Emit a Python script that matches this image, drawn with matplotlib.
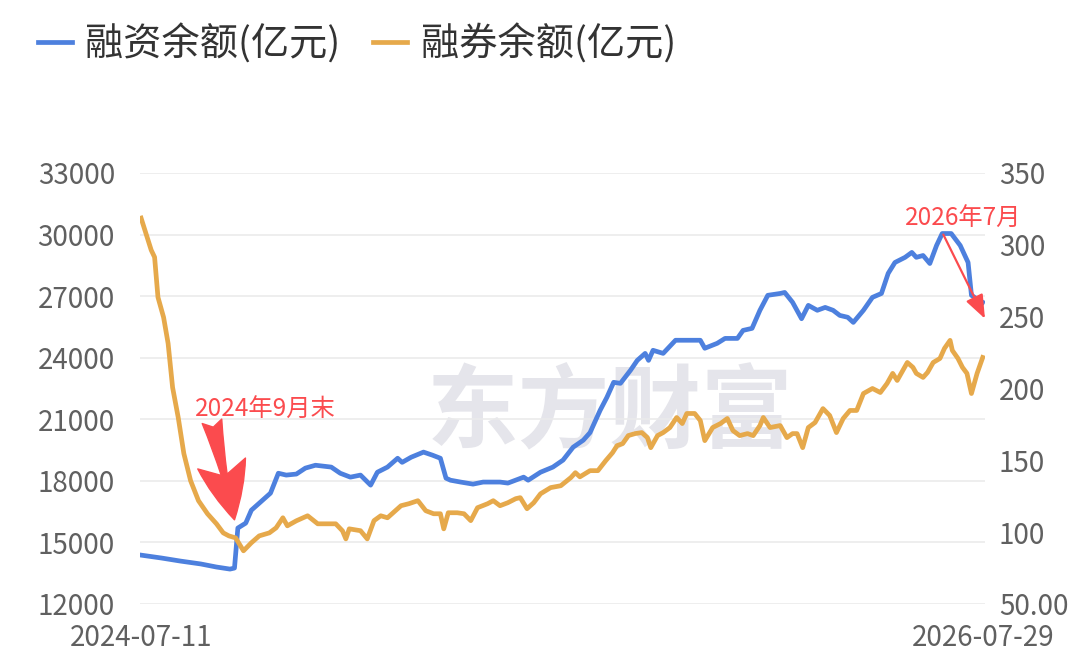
import numpy as np
import pandas as pd
import matplotlib
matplotlib.use('Agg')
import matplotlib.pyplot as plt

plt.rcParams['font.family'] = ['Noto Sans CJK SC', 'DejaVu Sans']

# 融资余额(亿元), left axis
rz_dates = ['2024-07-11', '2024-07-29', '2024-08-15', '2024-09-02', '2024-09-16', '2024-09-28',
            '2024-10-02', '2024-10-05', '2024-10-12', '2024-10-17', '2024-10-25', '2024-11-03',
            '2024-11-10', '2024-11-17', '2024-11-26', '2024-12-04', '2024-12-13', '2024-12-27',
            '2025-01-04', '2025-01-13', '2025-01-22', '2025-01-31', '2025-02-06', '2025-02-15',
            '2025-02-24', '2025-02-28', '2025-03-08', '2025-03-19', '2025-03-27', '2025-04-03',
            '2025-04-08', '2025-04-12', '2025-04-21', '2025-05-02', '2025-05-11', '2025-05-26',
            '2025-06-02', '2025-06-16', '2025-06-20', '2025-07-01', '2025-07-12', '2025-07-21',
            '2025-07-30', '2025-08-08', '2025-08-14', '2025-08-23', '2025-08-29', '2025-09-04',
            '2025-09-10', '2025-09-19', '2025-09-25', '2025-10-02', '2025-10-05', '2025-10-09',
            '2025-10-18', '2025-10-29', '2025-11-11', '2025-11-20', '2025-11-24', '2025-12-05',
            '2025-12-12', '2025-12-23', '2025-12-28', '2026-01-05', '2026-01-12', '2026-01-19',
            '2026-01-30', '2026-02-03', '2026-02-10', '2026-02-18', '2026-02-24', '2026-03-04',
            '2026-03-11', '2026-03-18', '2026-03-24', '2026-03-31', '2026-04-05', '2026-04-14',
            '2026-04-22', '2026-04-30', '2026-05-06', '2026-05-12', '2026-05-21', '2026-05-27',
            '2026-05-31', '2026-06-06', '2026-06-12', '2026-06-18', '2026-06-23', '2026-07-01',
            '2026-07-09', '2026-07-16', '2026-07-19', '2026-07-26', '2026-07-29']
rz_values = [14380, 14240, 14090, 13950, 13800, 13700,
             13750, 15700, 15940, 16570, 16960, 17400,
             18370, 18280, 18330, 18620, 18760, 18670,
             18370, 18180, 18280, 17790, 18420, 18670,
             19100, 18900, 19150, 19400, 19250, 19100,
             18130, 18030, 17940, 17840, 17940, 17940,
             17890, 18180, 18030, 18420, 18670, 19010,
             19640, 19980, 20350, 21440, 22070, 22800,
             22750, 23390, 23870, 24210, 23870, 24360,
             24210, 24850, 24850, 24850, 24460, 24700,
             24940, 24940, 25330, 25430, 26310, 27040,
             27130, 27180, 26700, 25900, 26550, 26310,
             26450, 26310, 26060, 25970, 25720, 26310,
             26940, 27130, 28110, 28640, 28890, 29130,
             28890, 28980, 28590, 29470, 30050, 30050,
             29470, 28640, 27040, 26790, 26700]

# 融券余额(亿元), right axis
rq_dates = ['2024-07-11', '2024-07-15', '2024-07-20', '2024-07-23', '2024-07-26', '2024-07-31',
            '2024-08-04', '2024-08-08', '2024-08-13', '2024-08-18', '2024-08-24', '2024-08-31',
            '2024-09-08', '2024-09-16', '2024-09-22', '2024-09-27', '2024-10-03', '2024-10-10',
            '2024-10-17', '2024-10-24', '2024-11-02', '2024-11-08', '2024-11-14', '2024-11-18',
            '2024-11-26', '2024-12-06', '2024-12-15', '2024-12-31', '2025-01-06', '2025-01-09',
            '2025-01-12', '2025-01-22', '2025-01-28', '2025-02-03', '2025-02-09', '2025-02-15',
            '2025-02-20', '2025-02-27', '2025-03-06', '2025-03-14', '2025-03-21', '2025-03-28',
            '2025-04-03', '2025-04-06', '2025-04-10', '2025-04-18', '2025-04-24', '2025-04-30',
            '2025-05-06', '2025-05-15', '2025-05-20', '2025-05-26', '2025-06-02', '2025-06-09',
            '2025-06-13', '2025-06-19', '2025-06-25', '2025-07-01', '2025-07-10', '2025-07-19',
            '2025-07-28', '2025-08-01', '2025-08-05', '2025-08-14', '2025-08-21', '2025-08-28',
            '2025-09-03', '2025-09-07', '2025-09-12', '2025-09-17', '2025-09-23', '2025-09-29',
            '2025-10-04', '2025-10-07', '2025-10-13', '2025-10-18', '2025-10-24', '2025-10-30',
            '2025-11-04', '2025-11-08', '2025-11-15', '2025-11-20', '2025-11-24', '2025-12-01',
            '2025-12-08', '2025-12-14', '2025-12-19', '2025-12-25', '2026-01-01', '2026-01-06',
            '2026-01-12', '2026-01-15', '2026-01-21', '2026-01-30', '2026-02-05', '2026-02-10',
            '2026-02-14', '2026-02-19', '2026-02-24', '2026-03-02', '2026-03-09', '2026-03-15',
            '2026-03-21', '2026-03-27', '2026-04-02', '2026-04-08', '2026-04-14', '2026-04-22',
            '2026-04-29', '2026-05-05', '2026-05-10', '2026-05-14', '2026-05-18', '2026-05-23',
            '2026-05-28', '2026-05-31', '2026-06-06', '2026-06-10', '2026-06-15', '2026-06-21',
            '2026-06-25', '2026-06-30', '2026-07-02', '2026-07-07', '2026-07-11', '2026-07-15',
            '2026-07-19', '2026-07-24', '2026-07-28', '2026-07-29']
rq_values = [318.6, 308.8, 296.3, 291.4, 263.5, 249.5,
             231.4, 200.7, 179.8, 154.7, 135.8, 121.9,
             112.8, 105.8, 99.5, 97.4, 96.0, 87.0,
             92.6, 97.4, 99.5, 103.0, 110.0, 104.4,
             107.9, 111.4, 105.8, 105.8, 100.9, 95.3,
             102.3, 101.0, 95.3, 108.0, 111.4, 110.0,
             113.5, 118.4, 119.8, 121.9, 114.9, 112.8,
             112.8, 102.3, 113.5, 113.5, 112.8, 108.0,
             117.0, 119.8, 121.9, 118.4, 120.5, 123.3,
             124.0, 116.3, 120.5, 126.7, 131.0, 132.3,
             138.0, 141.4, 138.5, 142.8, 142.8, 149.8,
             155.3, 160.2, 161.6, 167.2, 168.6, 169.3,
             165.8, 158.8, 167.2, 169.3, 172.8, 179.8,
             175.6, 182.6, 182.6, 177.7, 163.7, 172.8,
             175.6, 179.1, 170.7, 167.2, 168.6, 167.2,
             174.2, 179.8, 172.8, 174.2, 165.8, 168.6,
             168.6, 158.8, 172.8, 176.3, 186.0, 181.2,
             169.3, 179.1, 184.7, 184.7, 196.5, 200.0,
             197.2, 203.5, 210.5, 205.6, 211.2, 218.1,
             214.7, 210.5, 207.7, 211.2, 218.1, 220.9,
             227.9, 233.5, 226.5, 220.9, 214.7, 210.5,
             196.5, 210.5, 219.5, 221.6]

left_ticks = [12000, 15000, 18000, 21000, 24000, 27000, 30000, 33000]
right_ticks = [50, 100, 150, 200, 250, 300, 350]
right_labels = ['50.00', '100', '150', '200', '250', '300', '350']
x_labels = ['2024-07-11', '2026-07-29']

blue = '#4d80de'
orange = '#e6a94b'
red = '#fb4b4e'
tick_color = '#606060'

rz_x = pd.to_datetime(rz_dates)
rq_x = pd.to_datetime(rq_dates)

fig = plt.figure(figsize=(10.8, 6.59), dpi=100)
ax = fig.add_axes([0.1296, 0.0835, 0.7824, 0.654])
ax2 = ax.twinx()

# watermark
ax.text(0.556, 0.44, '东方财富', transform=ax.transAxes, fontsize=66, color='#e5e5eb',
        ha='center', va='center', fontweight='bold', zorder=0)

l1, = ax.plot(rz_x, rz_values, color=blue, lw=3.4, solid_joinstyle='round', zorder=3)
l2, = ax2.plot(rq_x, rq_values, color=orange, lw=3.4, solid_joinstyle='round', zorder=3)

ax.set_ylim(12000, 33000)
ax2.set_ylim(50, 350)
ax.set_yticks(left_ticks)
ax2.set_yticks(right_ticks)
ax2.set_yticklabels(right_labels)

x0 = pd.Timestamp(x_labels[0])
x1 = pd.Timestamp(x_labels[1])
ax.set_xlim(x0 - pd.Timedelta(days=1), x1 + pd.Timedelta(days=2))
ax.set_xticks([x0, x1])
ax.set_xticklabels(x_labels)

ax.grid(axis='y', color='#ebebeb', lw=1.2)
ax.set_axisbelow(True)
for a in (ax, ax2):
    for s in a.spines.values():
        s.set_visible(False)
    a.tick_params(length=0, labelsize=20, colors=tick_color)
ax.tick_params(axis='y', pad=18)
ax2.tick_params(axis='y', pad=10)
ax.tick_params(axis='x', pad=14)

# annotations
ax.annotate('', xy=(pd.Timestamp('2024-10-02'), 16100), xytext=(pd.Timestamp('2024-09-12'), 20900),
            arrowprops=dict(arrowstyle='fancy,head_length=1.3,head_width=1.1,tail_width=0.45',
                            color=red, mutation_scale=32, shrinkA=0, shrinkB=0), zorder=5)
ax.text(pd.Timestamp('2024-08-28'), 20800, '2024年9月末', color=red, fontsize=17.5,
        ha='left', va='bottom', zorder=6)

ax.annotate('', xy=(pd.Timestamp('2026-07-31'), 25900), xytext=(pd.Timestamp('2026-06-24'), 30000),
            arrowprops=dict(arrowstyle='-|>,head_length=0.9,head_width=0.35', color=red, lw=1.6,
                            mutation_scale=16, shrinkA=0, shrinkB=0), zorder=5)
ax.text(pd.Timestamp('2026-05-21'), 30150, '2026年7月', color=red, fontsize=17.5,
        ha='left', va='bottom', zorder=6)

fig.legend([l1, l2], ['融资余额(亿元)', '融券余额(亿元)'], loc='center left',
           bbox_to_anchor=(0.003, 0.933), ncol=2, frameon=False, fontsize=27.5,
           handlelength=0.9, handletextpad=0.35, columnspacing=0.85, labelcolor='#333333')

fig.savefig('out.png', dpi=100)
